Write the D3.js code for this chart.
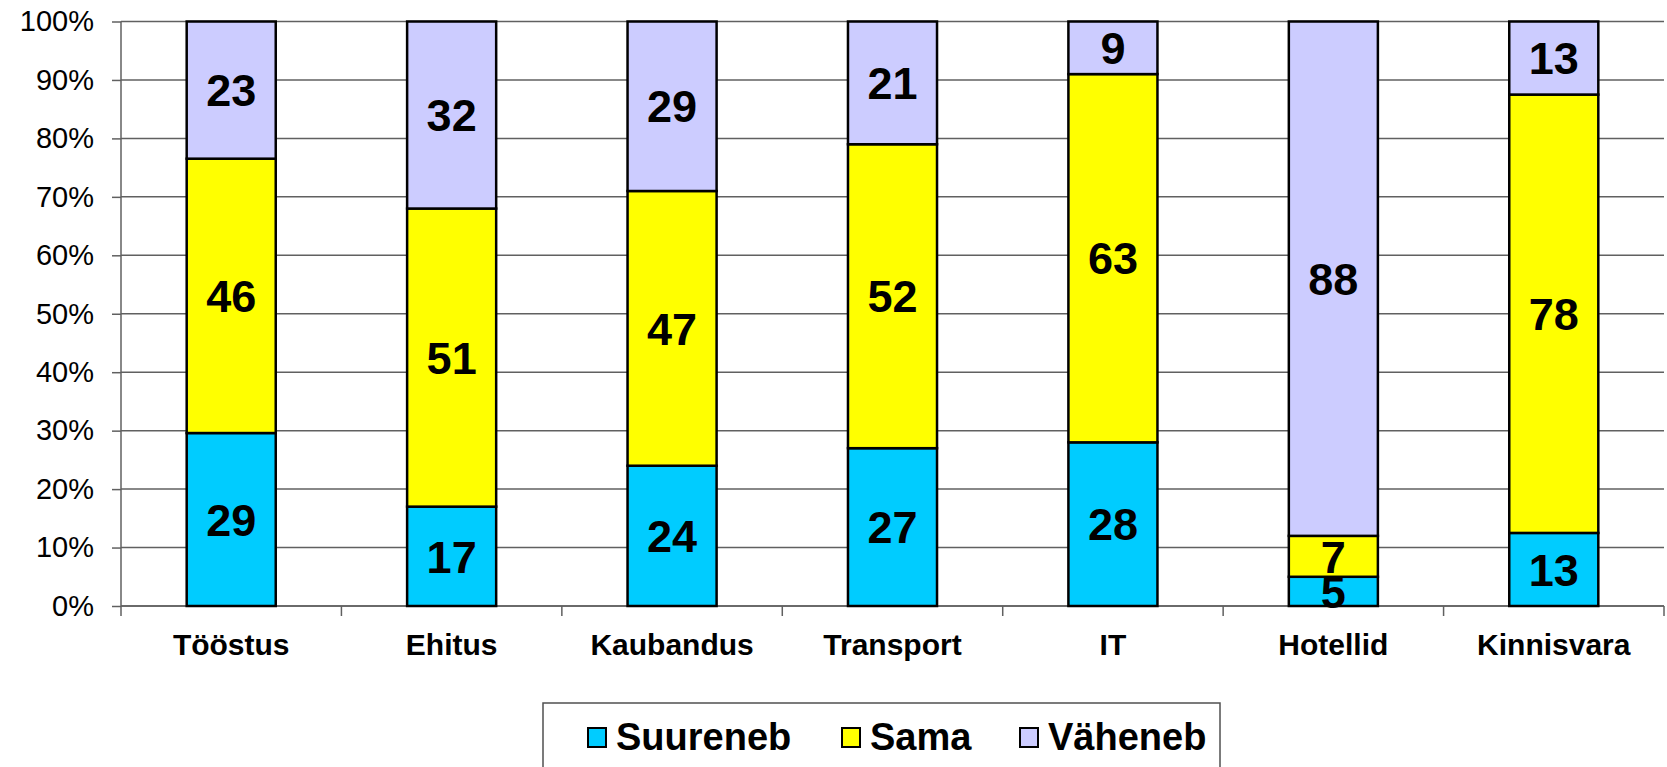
<!DOCTYPE html>
<html>
<head>
<meta charset="utf-8">
<script src="https://cdn.jsdelivr.net/npm/d3@7"></script>
<style>
  body { margin: 0; background: #fff; }
  svg { display: block; font-family: "Liberation Sans", Arial, sans-serif; }
</style>
</head>
<body>
<svg id="chart" width="1667" height="767"></svg>
<script>
// data
var categories = ["Tööstus", "Ehitus", "Kaubandus", "Transport", "IT", "Hotellid", "Kinnisvara"];
var suureneb = [29, 17, 24, 27, 28, 5, 13];
var sama = [46, 51, 47, 52, 63, 7, 78];
var vaheneb = [23, 32, 29, 21, 9, 88, 13];
var seriesNames = ["Suureneb", "Sama", "Väheneb"];
var seriesColors = ["#00CCFF", "#FFFF00", "#CCCCFF"];
var yTicks = [0, 0.1, 0.2, 0.3, 0.4, 0.5, 0.6, 0.7, 0.8, 0.9, 1];

var svg = d3.select("#chart");

var plotLeft = 121, plotRight = 1664, plotTop = 21.5, plotBottom = 606;

var x = d3.scaleBand().domain(categories).range([plotLeft, plotRight]).padding(0);
var y = d3.scaleLinear().domain([0, 1]).range([plotBottom, plotTop]);

// build rows for the stack (100% stacked, so normalise each category)
var rows = categories.map(function (c, i) {
  var tot = suureneb[i] + sama[i] + vaheneb[i];
  return {
    cat: c,
    Suureneb: suureneb[i] / tot,
    Sama: sama[i] / tot,
    "Väheneb": vaheneb[i] / tot,
    raw: { Suureneb: suureneb[i], Sama: sama[i], "Väheneb": vaheneb[i] }
  };
});

var stack = d3.stack().keys(seriesNames);
var layers = stack(rows);

// gridlines
svg.append("g")
  .selectAll("line")
  .data(yTicks)
  .enter()
  .append("line")
  .attr("x1", plotLeft)
  .attr("x2", plotRight)
  .attr("y1", function (d) { return y(d); })
  .attr("y2", function (d) { return y(d); })
  .style("stroke", "#606060")
  .style("stroke-width", 1.5);

// y axis
var yAxis = svg.append("g")
  .attr("transform", "translate(" + plotLeft + ",0)")
  .call(d3.axisLeft(y).tickValues(yTicks).tickSize(9).tickPadding(18)
    .tickFormat(function (d) { return Math.round(d * 100) + "%"; }));
yAxis.select(".domain").attr("d", "M0," + plotTop + "V" + plotBottom).style("stroke", "#606060").style("stroke-width", 1.5);
yAxis.selectAll(".tick line").style("stroke", "#606060").style("stroke-width", 1.5);
yAxis.selectAll(".tick text")
  .attr("font-family", "Liberation Sans, Arial, sans-serif")
  .attr("font-size", "29px")
  .attr("fill", "#000");

// x axis
var bw = x.bandwidth();
var xAxis = svg.append("g")
  .attr("transform", "translate(0," + plotBottom + ")");
xAxis.append("line")
  .attr("x1", plotLeft).attr("x2", plotRight)
  .style("stroke", "#606060").style("stroke-width", 1.5);
xAxis.selectAll("line.tk")
  .data(categories.concat(["end"]))
  .enter()
  .append("line")
  .attr("class", "tk")
  .attr("x1", function (d, i) { return plotLeft + i * bw; })
  .attr("x2", function (d, i) { return plotLeft + i * bw; })
  .attr("y1", 0).attr("y2", 10)
  .style("stroke", "#606060").style("stroke-width", 1.5);
xAxis.selectAll("text")
  .data(categories)
  .enter()
  .append("text")
  .attr("x", function (d) { return x(d) + bw / 2; })
  .attr("y", 49)
  .attr("text-anchor", "middle")
  .attr("font-size", "30px")
  .attr("font-weight", "bold")
  .text(function (d) { return d; });

// bars
var barW = bw * 0.404;
var off = (bw - barW) / 2;

var groups = svg.selectAll("g.layer")
  .data(layers)
  .enter()
  .append("g")
  .attr("class", "layer")
  .style("fill", function (d, i) { return seriesColors[i]; });

groups.selectAll("rect")
  .data(function (d) { return d; })
  .enter()
  .append("rect")
  .attr("x", function (d) { return x(d.data.cat) + off; })
  .attr("y", function (d) { return y(d[1]); })
  .attr("width", barW)
  .attr("height", function (d) { return y(d[0]) - y(d[1]); })
  .style("stroke", "#000")
  .style("stroke-width", 2.5);

// value labels
layers.forEach(function (layer) {
  svg.append("g")
    .selectAll("text")
    .data(layer)
    .enter()
    .append("text")
    .attr("x", function (d) { return x(d.data.cat) + bw / 2; })
    .attr("y", function (d) { return y((d[0] + d[1]) / 2); })
    .attr("dy", "0.36em")
    .attr("text-anchor", "middle")
    .attr("font-size", "45px")
    .attr("font-weight", "bold")
    .text(function (d) { return d.data.raw[layer.key]; });
});

// legend
var legend = svg.append("g");
legend.append("rect")
  .attr("x", 543).attr("y", 703)
  .attr("width", 677).attr("height", 90)
  .style("fill", "#fff")
  .style("stroke", "#505050")
  .style("stroke-width", 1.5);

var legendX = [588, 842, 1020];
seriesNames.forEach(function (name, i) {
  legend.append("rect")
    .attr("x", legendX[i]).attr("y", 728)
    .attr("width", 18).attr("height", 19)
    .style("fill", seriesColors[i])
    .style("stroke", "#000")
    .style("stroke-width", 2);
  legend.append("text")
    .attr("x", legendX[i] + 28)
    .attr("y", 750)
    .attr("font-size", "38px")
    .attr("font-weight", "bold")
    .text(name);
});
</script>
</body>
</html>
